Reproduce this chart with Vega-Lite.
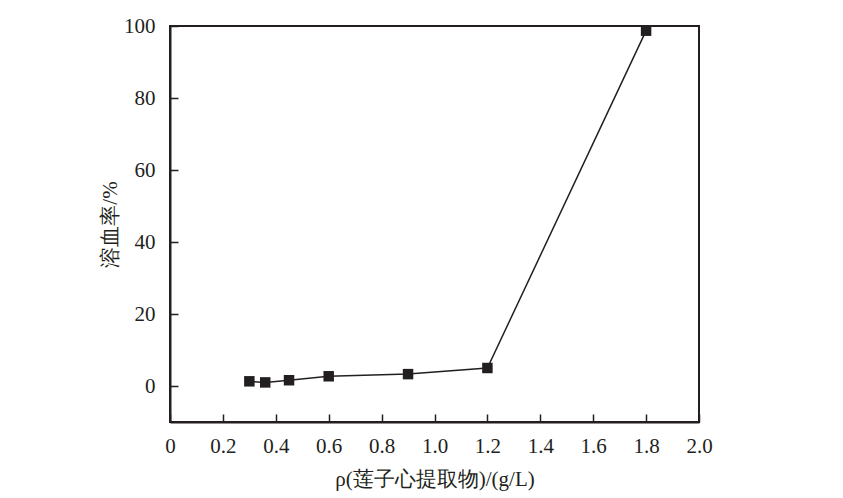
{
  "$schema": "https://vega.github.io/schema/vega-lite/v6.json",
  "autosize": {"type": "none"},
  "padding": {"left": 170, "top": 26, "right": 144, "bottom": 76},
  "width": 529,
  "height": 396,
  "background": "white",
  "config": {
    "view": {"stroke": "#231f20", "strokeWidth": 2}
  },
  "data": {
    "values": [
      {"c": 0.3, "h": 1.3},
      {"c": 0.36, "h": 1.0},
      {"c": 0.45, "h": 1.6},
      {"c": 0.6, "h": 2.7},
      {"c": 0.9, "h": 3.3},
      {"c": 1.2, "h": 5.0},
      {"c": 1.8, "h": 98.7}
    ]
  },
  "encoding": {
    "x": {
      "field": "c",
      "type": "quantitative",
      "scale": {"domain": [0, 2.0], "nice": false, "zero": false},
      "axis": {
        "values": [0, 0.2, 0.4, 0.6, 0.8, 1.0, 1.2, 1.4, 1.6, 1.8, 2.0],
        "labelExpr": "datum.value == 0 ? '0' : format(datum.value, '.1f')",
        "labelFont": "Liberation Serif",
        "labelFontSize": 21,
        "labelColor": "#231f20",
        "labelPadding": 21,
        "labelFlush": false,
        "title": "ρ(莲子心提取物)/(g/L)",
        "titleFont": "Liberation Serif",
        "titleFontSize": 21,
        "titleFontWeight": "normal",
        "titleColor": "#231f20",
        "titlePadding": 12,
        "domainColor": "#231f20",
        "domainWidth": 2,
        "tickColor": "#231f20",
        "tickWidth": 1.5,
        "tickSize": -8,
        "grid": false
      }
    },
    "y": {
      "field": "h",
      "type": "quantitative",
      "scale": {"domain": [-10, 100], "nice": false, "zero": false},
      "axis": {
        "values": [0, 20, 40, 60, 80, 100],
        "labelFont": "Liberation Serif",
        "labelFontSize": 21,
        "labelColor": "#231f20",
        "labelPadding": 23,
        "labelFlush": false,
        "title": "溶血率/%",
        "titleFont": "Liberation Serif",
        "titleFontSize": 21,
        "titleFontWeight": "normal",
        "titleColor": "#231f20",
        "titlePadding": 3,
        "domainColor": "#231f20",
        "domainWidth": 2,
        "tickColor": "#231f20",
        "tickWidth": 1.5,
        "tickSize": -8,
        "grid": false
      }
    }
  },
  "layer": [
    {"mark": {"type": "line", "color": "#231f20", "strokeWidth": 1.5}},
    {"mark": {"type": "point", "shape": "square", "filled": true, "color": "#231f20", "size": 110, "opacity": 1}}
  ]
}
